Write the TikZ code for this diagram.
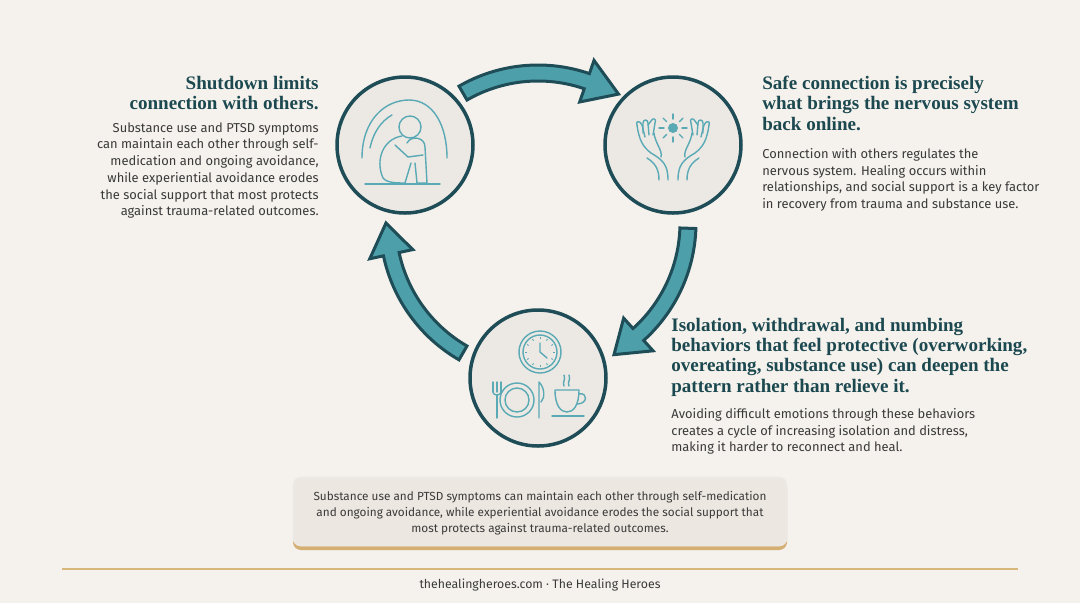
\documentclass[tikz,border=0pt]{standalone}
\usepackage{fontspec}
\setsansfont{Fira Sans}
\setmainfont{Liberation Serif}
\usetikzlibrary{calc}
\definecolor{bg}{HTML}{F5F2ED}
\definecolor{cfill}{HTML}{ECE8E3}
\definecolor{dteal}{HTML}{1E4D57}
\definecolor{teal}{HTML}{4D9FAA}
\definecolor{icon}{HTML}{5AAAB6}
\definecolor{head}{HTML}{1C4850}
\definecolor{body}{HTML}{3A3A3A}
\definecolor{gold}{HTML}{D9B77A}
\definecolor{boxf}{HTML}{ECE7E0}
\begin{document}
\begin{tikzpicture}[x=0.02cm,y=-0.02cm,
  stage/.style={circle,draw=dteal,line width=3.5*0.569pt,fill=cfill,minimum size=136*0.02cm,inner sep=0},
  arr/.style={fill=teal,draw=dteal,line width=3*0.569pt,line join=miter},
  ic/.style={draw=icon,line width=0.8pt,line cap=round,line join=round},
  hd/.style={text=head,font=\bfseries\fontsize{10.85}{11.5}\selectfont,inner sep=0},
  bd/.style={text=body,font=\sffamily\fontsize{7.35}{9.55}\selectfont,inner sep=0}]
\fill[bg] (0,0) rectangle (1080,603);
\useasboundingbox (0,0) rectangle (1080,603);
% arrows
\def\R{150}
\begin{scope}[shift={(538,223)}]
\foreach \a/\b/\c in {-120/-71/-58, 2/48/60, 120/168/180}{
  \draw[arr] (\a:\R-8) arc[start angle=\a,end angle=\b,radius=\R-8] -- (\b:\R-22) -- (\c:\R+2) -- (\b:\R+22) -- (\b:\R+8) arc[start angle=\b,end angle=\a,radius=\R+8] -- cycle;
}
\end{scope}
% circles
\node[stage] (c1) at (405,145) {};
\node[stage] (c2) at (673,145) {};
\node[stage] (c3) at (538,378) {};
% icon 1: person
\begin{scope}[shift={(405,145)}]
\draw[ic] (-40,39) -- (35,39);
\draw[ic] (-43,13) .. controls (-43,-25) and (-20,-45) .. (4,-45) .. controls (28,-45) and (42,-20) .. (42,13);
\draw[ic] (-35,3) .. controls (-32,-12) and (-24,-24) .. (-13,-30);
\draw[ic] (5,-18) circle (11);
\draw[ic] (-3,-9) .. controls (-22,-6) and (-30,15) .. (-22,33) .. controls (-18,38) and (-8,38) .. (0,38) -- (6,18);
\draw[ic] (2,-2) .. controls (6,-10) and (20,-8) .. (20,2) -- (22,38) -- (12,38) -- (10,18);
\draw[ic] (-10,0) -- (3,12) -- (18,10);
\end{scope}
% icon 2: hands + sun
\begin{scope}[shift={(673,145)}]
\fill[icon] (0,-17) circle (5);
\foreach \t in {0,45,...,315} \draw[ic] ($(0,-17)+(\t:9)$) -- ($(0,-17)+(\t:14)$);
\foreach \s in {1,-1}{
\begin{scope}[xscale=\s]
\draw[ic] (-5,35) .. controls (-5,20) and (-10,15) .. (-22,8) .. controls (-30,2) and (-34,-5) .. (-36,-20);
\draw[ic] (-36,-20) .. controls (-38,-24) and (-33,-25) .. (-31,-20) -- (-28,-8);
\draw[ic] (-30,-12) -- (-30,-22) .. controls (-30,-26) and (-25,-26) .. (-25,-22) -- (-24,-10);
\draw[ic] (-25,-20) -- (-22,-24) .. controls (-20,-28) and (-16,-26) .. (-18,-22) -- (-20,-10);
\draw[ic] (-19,-12) .. controls (-18,-2) and (-10,6) .. (-12,12);
\draw[ic] (-14,35) .. controls (-14,24) and (-18,18) .. (-26,13);
\end{scope}}
\end{scope}
% icon 3: clock, plate, cup
\begin{scope}[shift={(538,378)}]
\draw[ic] (2,-26) circle (21); \draw[ic] (2,-26) circle (17);
\foreach \t in {0,30,...,330} \draw[icon,line width=0.5pt] ($(2,-26)+(\t:13)$) -- ($(2,-26)+(\t:15)$);
\draw[ic] (2,-35) -- (2,-26) -- (9,-20);
\draw[ic] (-21,22) circle (17); \draw[ic] (-21,22) circle (12);
\draw[ic] (-45,4) -- (-45,14) (-41,4) -- (-41,14) (-37,4) -- (-37,14);
\draw[ic] (-45,14) .. controls (-45,18) and (-37,18) .. (-37,14);
\draw[ic] (-41,17) -- (-41,40);
\draw[ic] (1,40) -- (1,4) .. controls (7,10) and (7,20) .. (3,24);
\draw[ic] (17,12) -- (41,12) .. controls (41,28) and (35,34) .. (29,34) .. controls (23,34) and (17,28) .. (17,12);
\draw[ic] (41,16) .. controls (50,14) and (50,26) .. (39,26);
\draw[ic] (14,38) -- (46,38);
\draw[ic] (26,8) .. controls (24,4) and (28,2) .. (26,-3);
\draw[ic] (31,8) .. controls (29,4) and (33,2) .. (31,-3);
\end{scope}
% texts
\node[hd,align=right,anchor=north east] (h1) at (319,76) {Shutdown limits\\connection with others.};
\node[bd,align=right,anchor=north east] (b1) at (319,122) {Substance use and PTSD symptoms\\can maintain each other through self-\\medication and ongoing avoidance,\\while experiential avoidance erodes\\the social support that most protects\\against trauma-related outcomes.};
\node[hd,align=left,anchor=north west] (h2) at (762,76) {Safe connection is precisely\\what brings the nervous system\\back online.};
\node[bd,align=left,anchor=north west] (b2) at (762,148) {Connection with others regulates the\\nervous system. Healing occurs within\\relationships, and social support is a key factor\\in recovery from trauma and substance use.};
\node[hd,align=left,anchor=north west] (h3) at (671,318) {Isolation, withdrawal, and numbing\\behaviors that feel protective (overworking,\\overeating, substance use) can deepen the\\pattern rather than relieve it.};
\node[bd,align=left,anchor=north west] (b3) at (671,408) {Avoiding difficult emotions through these behaviors\\creates a cycle of increasing isolation and distress,\\making it harder to reconnect and heal.};
% bottom box
\fill[gold!85!brown,rounded corners=8*0.02cm] (293,480) rectangle (787,550);
\fill[boxf,rounded corners=8*0.02cm,draw=white!85!gray,line width=0.4pt] (293,477) rectangle (787,546);
\node[bd,align=center,font=\sffamily\fontsize{6.7}{9}\selectfont] (note) at (540,513) {Substance use and PTSD symptoms can maintain each other through self-medication\\and ongoing avoidance, while experiential avoidance erodes the social support that\\most protects against trauma-related outcomes.};
\draw[gold,line width=0.6pt] (62,569) -- (1018,569);
\node[text=body,font=\sffamily\fontsize{7}{9}\selectfont] (foot) at (540,585) {thehealingheroes.com · The Healing Heroes};
\end{tikzpicture}
\end{document}
